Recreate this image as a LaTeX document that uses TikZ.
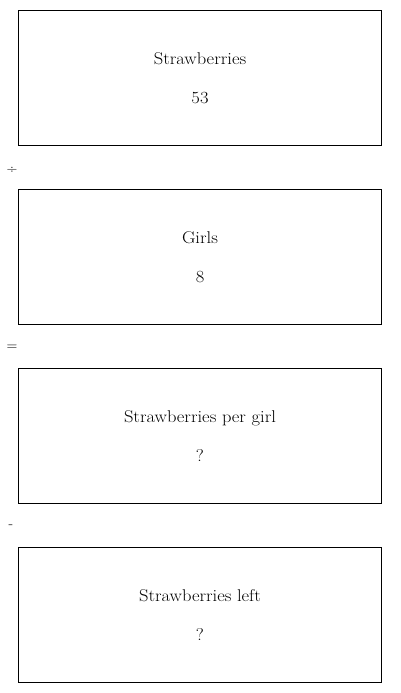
\documentclass[tikz,border=0pt]{standalone}
\usepackage{fontspec}
\begin{document}
\begin{tikzpicture}[x=1pt,y=-1pt,
  qbox/.style={draw,line width=0.9pt,minimum width=363pt,minimum height=135pt,anchor=north west,inner sep=0pt},
  lbl/.style={font=\fontsize{17}{20}\selectfont,inner sep=0pt,anchor=base,xscale=1.09},
  op/.style={font=\fontsize{15}{17}\selectfont,inner sep=0pt}]
\useasboundingbox (0,0) rectangle (400,693);
\node[qbox] (b1) at (18,10) {};
\node[qbox] (b2) at (18,189) {};
\node[qbox] (b3) at (18,368) {};
\node[qbox] (b4) at (18,547) {};
\node[lbl] (t1) at (200,64) {Strawberries};
\node[lbl] (v1) at (200,103) {53};
\node[lbl] (t2) at (200,243) {Girls};
\node[lbl] (v2) at (200,282) {8};
\node[lbl] (t3) at (200,422) {Strawberries per girl};
\node[lbl] (v3) at (200,461) {?};
\node[lbl] (t4) at (200,601) {Strawberries left};
\node[lbl] (v4) at (200,640) {?};
\node[op] (o1) at (12,170) {÷};
\node[op] (o2) at (12,348) {=};
\node[op] (o3) at (11,527) {-};
\end{tikzpicture}
\end{document}
